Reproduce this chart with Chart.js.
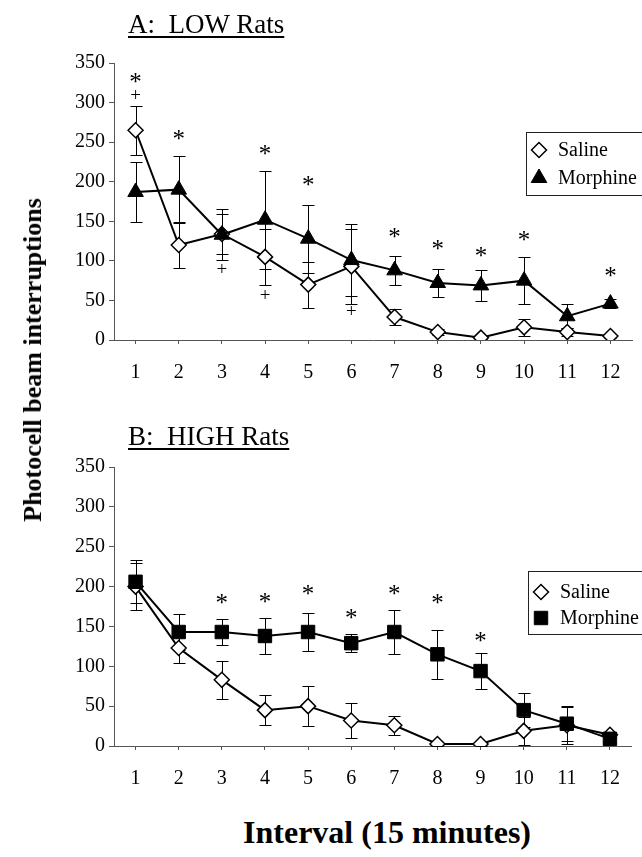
<!DOCTYPE html>
<html>
<head>
<meta charset="utf-8">
<script src="https://cdn.jsdelivr.net/npm/chart.js@4.4.1/dist/chart.umd.min.js"></script>
<style>
  html, body { margin: 0; padding: 0; background: #fff; }
  body { width: 642px; height: 857px; position: relative; overflow: hidden; font-family: "Liberation Serif", "Times New Roman", serif; color: #000; }
  canvas { position: absolute; left: 0; }
  #cA { top: 0; }
  #cB { top: 410px; }
  .t { position: absolute; white-space: pre; line-height: 1; }
  .title { font-size: 27px; text-decoration: underline; text-decoration-thickness: 1.5px; text-underline-offset: 3px; }
  #tA { left: 128px; top: 11px; }
  #tB { left: 128px; top: 423px; }
  #yt { left: 33px; top: 360px; font-size: 26px; font-weight: bold; transform: translate(-50%, -50%) rotate(-90deg); }
  #xt { left: 387px; top: 832px; font-size: 32px; font-weight: bold; transform: translate(-50%, -50%); }
</style>
</head>
<body>
<canvas id="cA" width="642" height="400"></canvas>
<canvas id="cB" width="642" height="390"></canvas>
<div class="t title" id="tA">A:  LOW Rats</div>
<div class="t title" id="tB">B:  HIGH Rats</div>
<div class="t" id="yt">Photocell beam interruptions</div>
<div class="t" id="xt">Interval (15 minutes)</div>
<script>
// ---- data ----
const categories = ['1','2','3','4','5','6','7','8','9','10','11','12'];
const yTicks = [0, 50, 100, 150, 200, 250, 300, 350];
const seriesNames = ['Saline', 'Morphine'];

const lowSaline      = [265, 120, 134, 105, 70, 93, 29, 10, 3, 16, 10, 5];
const lowSalineErr   = [31, 29, 25, 35, 29, 47, 10, 4, 2, 11, 5, 2];
const lowMorphine    = [187, 190, 133, 152, 128, 101, 88, 72, 69, 75, 30, 46];
const lowMorphineErr = [38, 42, 32, 62, 43, 46, 18, 18, 20, 30, 15, 6];
const lowStars       = [331, 259, null, 240, 201, null, 135, 120, 111, 131, null, 86];
const lowPlus        = [308, null, 88, 56, null, 36, null, null, null, null, null, null];

const highSaline      = [200, 123, 83, 45, 50, 32, 26, 2.5, 2.5, 19, 26, 14];
const highSalineErr   = [29, 19, 24, 19, 25, 22, 12, 2, 2, 18, 23, 3];
const highMorphine    = [206, 143, 143, 138, 143, 129, 143, 115, 94, 45, 28, 9];
const highMorphineErr = [27, 23, 16, 22, 24, 11, 28, 31, 23, 21, 22, 4];
const highStars       = [null, null, 185, 186, 196, 165, 196, 185, 137, null, null, null];
const highPlus        = [null, null, null, null, null, null, null, null, null, null, null, null];

// ---- setup ----
const FONT = "'Liberation Serif', 'Times New Roman', serif";
Chart.defaults.font.family = FONT;
Chart.defaults.color = '#000';

const errorBars = {
  id: 'errorBars',
  beforeDatasetsDraw(chart) {
    const ctx = chart.ctx, ys = chart.scales.y;
    ctx.save();
    ctx.strokeStyle = '#000';
    ctx.lineWidth = 1;
    chart.data.datasets.forEach((ds, i) => {
      const meta = chart.getDatasetMeta(i);
      (ds.errors || []).forEach((e, j) => {
        if (e == null) return;
        const px = Math.round(meta.data[j].x) + 0.5;
        const v = ds.data[j];
        const top = Math.round(ys.getPixelForValue(v + e)) + 0.5;
        const bot = Math.round(ys.getPixelForValue(Math.max(v - e, 0))) + 0.5;
        ctx.beginPath();
        ctx.moveTo(px, top); ctx.lineTo(px, bot);
        ctx.moveTo(px - 6, top); ctx.lineTo(px + 6, top);
        ctx.moveTo(px - 6, bot); ctx.lineTo(px + 6, bot);
        ctx.stroke();
      });
    });
    ctx.restore();
  }
};

const annot = {
  id: 'annot',
  afterDatasetsDraw(chart, args, opts) {
    const ctx = chart.ctx, xs = chart.scales.x, ys = chart.scales.y;
    ctx.save();
    ctx.fillStyle = '#000';
    ctx.textAlign = 'center';
    ctx.textBaseline = 'alphabetic';
    ctx.font = '25px ' + FONT;
    (opts.stars || []).forEach((v, j) => {
      if (v == null) return;
      ctx.fillText('*', xs.getPixelForValue(j), ys.getPixelForValue(v) + 12);
    });
    ctx.font = '19px ' + FONT;
    (opts.plus || []).forEach((v, j) => {
      if (v == null) return;
      ctx.fillText('+', xs.getPixelForValue(j), ys.getPixelForValue(v) + 5);
    });
    ctx.restore();
  }
};

const boxLegend = {
  id: 'boxLegend',
  afterDraw(chart, args, opts) {
    const ctx = chart.ctx;
    ctx.save();
    ctx.strokeStyle = '#222';
    ctx.lineWidth = 1;
    ctx.strokeRect(opts.x + 0.5, opts.y + 0.5, opts.w, opts.h);
    ctx.font = '20px ' + FONT;
    ctx.textBaseline = 'middle';
    ctx.textAlign = 'left';
    opts.order.forEach((di, k) => {
      const ds = chart.data.datasets[di];
      const yy = opts.rows[k];
      ctx.fillStyle = ds.pointBackgroundColor;
      ctx.strokeStyle = '#000';
      ctx.lineWidth = ds.pointBorderWidth;
      Chart.helpers.drawPoint(ctx, { pointStyle: ds.pointStyle, radius: ds.pointRadius, rotation: 0, borderWidth: ds.pointBorderWidth }, opts.markerX, yy);
      ctx.fillStyle = '#000';
      ctx.fillText(ds.label, opts.textX, yy + 1);
    });
    ctx.restore();
  }
};

function makeChart(id, saline, salineErr, morph, morphErr, morphStyle, morphRadius, stars, plus, legend, padTop, xHeight) {
  const canvas = document.getElementById(id);
  return new Chart(canvas, {
    type: 'line',
    data: {
      labels: categories,
      datasets: [
        {
          label: seriesNames[1], data: morph, errors: morphErr,
          borderColor: '#000', borderWidth: 2, tension: 0,
          pointStyle: morphStyle, pointRadius: morphRadius, pointBackgroundColor: '#000',
          pointBorderColor: '#000', pointBorderWidth: 1
        },
        {
          label: seriesNames[0], data: saline, errors: salineErr,
          borderColor: '#000', borderWidth: 2, tension: 0,
          pointStyle: 'rectRot', pointRadius: 7.5, pointBackgroundColor: '#fff',
          pointBorderColor: '#000', pointBorderWidth: 1.5
        }
      ]
    },
    options: {
      responsive: false,
      animation: false,
      devicePixelRatio: 1,
      layout: { padding: { left: 0, right: 8, top: padTop, bottom: 0 } },
      plugins: {
        legend: { display: false },
        tooltip: { enabled: false },
        annot: { stars: stars, plus: plus },
        boxLegend: legend
      },
      scales: {
        x: {
          type: 'category',
          offset: true,
          afterFit(s) { s.height = xHeight; },
          grid: { display: true, drawOnChartArea: false, drawTicks: true, tickLength: 4, offset: false, color: '#555' },
          border: { display: true, color: '#555', width: 1 },
          ticks: { font: { size: 20, family: FONT }, color: '#000', padding: 17, maxRotation: 0, autoSkip: false }
        },
        y: {
          min: 0, max: 350,
          afterFit(s) { s.width = 114; },
          afterBuildTicks(s) { s.ticks = yTicks.map(v => ({ value: v })); },
          grid: { display: true, drawOnChartArea: false, drawTicks: true, tickLength: 5, color: '#555' },
          border: { display: true, color: '#555', width: 1 },
          ticks: { font: { size: 20, family: FONT }, color: '#000', padding: 4 }
        }
      }
    },
    plugins: [errorBars, annot, boxLegend]
  });
}

makeChart('cA', lowSaline, lowSalineErr, lowMorphine, lowMorphineErr, 'triangle', 9,
  lowStars, lowPlus,
  { x: 526, y: 132, w: 130, h: 63, order: [1, 0], rows: [150, 178], markerX: 539, textX: 558 },
  63, 60);

makeChart('cB', highSaline, highSalineErr, highMorphine, highMorphineErr, 'rect', 9.5,
  highStars, highPlus,
  { x: 528, y: 161, w: 130, h: 63, order: [1, 0], rows: [182, 208], markerX: 541, textX: 560 },
  57, 54);
</script>
</body>
</html>
